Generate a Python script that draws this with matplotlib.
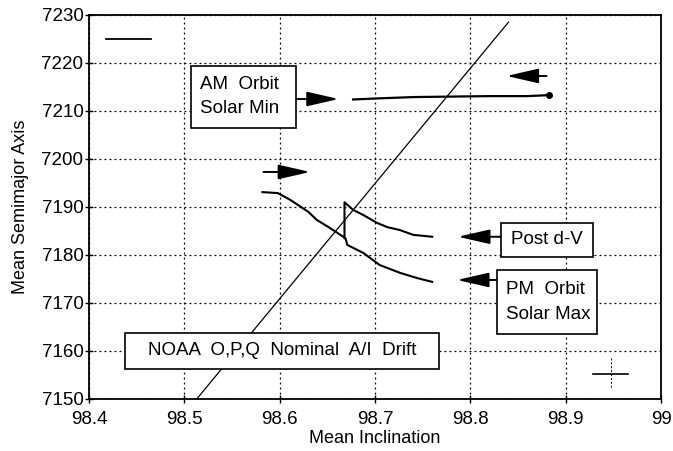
import matplotlib
matplotlib.use("Agg")
import matplotlib.pyplot as plt
from matplotlib.patches import Rectangle

plt.rcParams['font.family'] = ['Liberation Sans', 'DejaVu Sans']

# nominal A/I drift line
drift_x = [98.513, 98.84]
drift_y = [7150.0, 7228.5]

# AM orbit, solar min
am_x = [98.677, 98.70, 98.74, 98.78, 98.82, 98.86, 98.882]
am_y = [7212.4, 7212.6, 7212.9, 7213.0, 7213.1, 7213.1, 7213.3]

# PM orbit, solar max
pm_x = [98.582, 98.598, 98.611, 98.630, 98.639, 98.653, 98.669, 98.671,
        98.688, 98.705, 98.726, 98.744, 98.760]
pm_y = [7193.1, 7192.9, 7191.5, 7189.0, 7187.3, 7185.6, 7183.5, 7182.1,
        7180.4, 7177.9, 7176.3, 7175.2, 7174.4]

# post d-V
pdv_x = [98.668, 98.668, 98.677, 98.688, 98.702, 98.713, 98.726, 98.740, 98.760]
pdv_y = [7183.5, 7191.0, 7189.4, 7188.3, 7186.7, 7185.8, 7185.2, 7184.2, 7183.8]

xticks = [98.4, 98.5, 98.6, 98.7, 98.8, 98.9, 99]
xticklabels = ["98.4", "98.5", "98.6", "98.7", "98.8", "98.9", "99"]
yticks = [7150, 7160, 7170, 7180, 7190, 7200, 7210, 7220, 7230]

fig = plt.figure(figsize=(6.73, 4.51), dpi=100)
ax = fig.add_axes([89 / 673, 1 - 399 / 451, 572 / 673, 384 / 451])

ax.plot(drift_x, drift_y, color='black', lw=0.9)
ax.plot(am_x, am_y, color='black', lw=1.6)
ax.plot(am_x[-1], am_y[-1], 'o', color='black', ms=4)
ax.plot(pm_x, pm_y, color='black', lw=1.5)
ax.plot(pdv_x, pdv_y, color='black', lw=1.5)

# stray legend line and small cross
ax.plot([98.418, 98.465], [7225, 7225], color='black', lw=1.3)
ax.plot([98.929, 98.965], [7155.2, 7155.2], color='black', lw=1.2)
ax.plot([98.948, 98.948], [7158.5, 7152.5], color='black', lw=0.7, ls=(0, (2, 2)))

def arrow(x0, x1, y):
    ax.annotate("", xy=(x1, y), xytext=(x0, y),
                arrowprops=dict(arrowstyle='-|>,head_length=1.4,head_width=0.32',
                                color='black', lw=1.4, mutation_scale=14,
                                shrinkA=0, shrinkB=0))

arrow(98.617, 98.662, 7212.5)
arrow(98.88, 98.838, 7217.3)
arrow(98.583, 98.632, 7197.3)
arrow(98.833, 98.787, 7183.8)
arrow(98.830, 98.786, 7174.8)

def box(x0, x1, y0, y1, text, ha='center'):
    ax.add_patch(Rectangle((x0, y0), x1 - x0, y1 - y0, facecolor='white',
                           edgecolor='black', lw=1.2, zorder=5))
    if ha == 'left':
        ax.text(x0 + 0.009, (y0 + y1) / 2, text, ha='left', va='center',
                fontsize=13.5, linespacing=1.55, zorder=6)
    else:
        ax.text((x0 + x1) / 2, (y0 + y1) / 2, text, ha='center', va='center',
                fontsize=13.5, zorder=6)

box(98.507, 98.617, 7206.5, 7219.4, "AM  Orbit\nSolar Min", ha='left')
box(98.832, 98.929, 7179.6, 7186.7, "Post d-V")
box(98.828, 98.933, 7163.5, 7176.9, "PM  Orbit\nSolar Max", ha='left')
box(98.438, 98.767, 7156.25, 7163.75, "NOAA  O,P,Q  Nominal  A/I  Drift")

ax.set_xlim(98.4, 99)
ax.set_ylim(7150, 7230)
ax.set_xticks(xticks)
ax.set_xticklabels(xticklabels)
ax.set_yticks(yticks)
ax.tick_params(direction='inout', length=6, width=1, labelsize=13.5, pad=1)
ax.tick_params(axis='x', pad=6)
ax.grid(True, color='black', ls=(0, (1.5, 2.5)), lw=0.9)
for s in ax.spines.values():
    s.set_linewidth(1.3)

ax.set_xlabel("Mean Inclination", fontsize=13, labelpad=1)
ax.set_ylabel("Mean Semimajor Axis", fontsize=13, labelpad=9)

fig.savefig("out.png", dpi=100)
